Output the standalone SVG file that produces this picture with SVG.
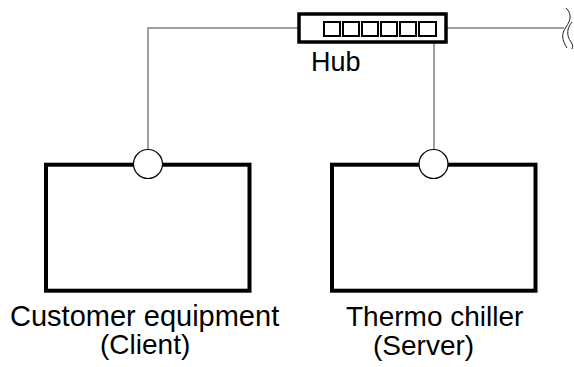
<svg xmlns="http://www.w3.org/2000/svg" width="574" height="367" viewBox="0 0 574 367">
<style>
.wire{fill:none;stroke:#808080;stroke-width:1.5}
.box{fill:#fff;stroke:#000;stroke-width:4}
.port{fill:#fff;stroke:#000;stroke-width:1.2}
.sq{fill:#fff;stroke:#000;stroke-width:2}
.lbl{font-family:"Liberation Sans",Arial,sans-serif;font-size:28px;fill:#000}
.brk{fill:none;stroke:#222;stroke-width:1}
</style>
<g id="connectors">
<path class="wire" d="M298,28 H148 V150"/>
<path class="wire" d="M447,28 H564"/>
<path class="wire" d="M434,42 V150"/>
<path class="brk" d="M566,8 C572,14 571,20 566,27 C561,34 562,40 567,48"/>
<path class="brk" d="M572,22 C567,28 566,35 571,42 C573,45 573,47 572,49"/>
</g>
<g id="hub">
<rect x="299" y="14" width="147" height="28" fill="#fff" stroke="#000" stroke-width="3.5"/>
<rect class="sq" x="324" y="22" width="16" height="14"/>
<rect class="sq" x="343" y="22" width="16" height="14"/>
<rect class="sq" x="362" y="22" width="16" height="14"/>
<rect class="sq" x="381" y="22" width="16" height="14"/>
<rect class="sq" x="400" y="22" width="16" height="14"/>
<rect class="sq" x="419" y="22" width="17" height="14"/>
<text class="lbl" x="311" y="71" style="font-size:27px">Hub</text>
</g>
<g id="client">
<rect class="box" x="46" y="164.7" width="203.5" height="126"/>
<circle class="port" cx="148" cy="164" r="14.5"/>
<text class="lbl" x="10" y="326" style="font-size:29px">Customer equipment</text>
<text class="lbl" x="100" y="354">(Client)</text>
</g>
<g id="server">
<rect class="box" x="332" y="164.7" width="203.5" height="126"/>
<circle class="port" cx="433.5" cy="164" r="14.5"/>
<text class="lbl" x="346" y="326">Thermo chiller</text>
<text class="lbl" x="373" y="355">(Server)</text>
</g>
</svg>
